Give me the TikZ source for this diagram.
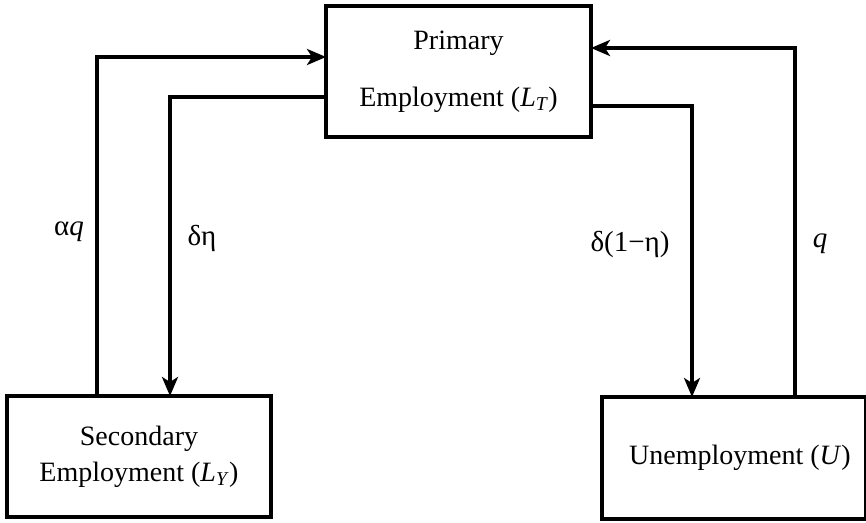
\documentclass[tikz,border=0pt]{standalone}
\usepackage{fontspec}
\setmainfont{Liberation Serif}
\usetikzlibrary{arrows.meta}
\begin{document}
\begin{tikzpicture}[x=1pt,y=-1pt,
  box/.style={draw,line width=3.2pt,inner sep=0pt,outer sep=0pt,align=center},
  conn/.style={line width=3.2pt},
  arr/.style={conn,-{Stealth[length=19pt,width=16pt,inset=5pt]}},
  lab/.style={font=\fontsize{29}{30}\selectfont,inner sep=0pt}]
\useasboundingbox (0,0) rectangle (866,522);
\node[box,minimum width=265pt,minimum height=131pt,font=\fontsize{28}{57}\selectfont] (P) at (458.5,71.5) {Primary\\Employment (\textit{L}\textsubscript{\textit{T}})};
\node[box,minimum width=264pt,minimum height=121pt,font=\fontsize{28}{36}\selectfont] (S) at (139,456.5) {Secondary\\Employment (\textit{L}\textsubscript{\textit{Y}})};
\node[box,minimum width=264pt,minimum height=122pt,font=\fontsize{28}{36}\selectfont] (U) at (734,458) {\hspace*{12pt}Unemployment (\textit{U})};
\coordinate (xa) at (97,57);
\coordinate (xd) at (170,97);
\coordinate (xe) at (692,106);
\coordinate (xq) at (795,48);
\draw[arr] (S.north -| xa) -- (xa) -- (P.west |- xa);
\draw[arr] (P.west |- xd) -- (xd) -- (S.north -| xd);
\draw[arr] (P.east |- xe) -- (xe) -- (U.north -| xe);
\draw[arr] (U.north -| xq) -- (xq) -- (P.east |- xq);
\node[lab] (la) at (69,232) {α\textit{q}};
\node[lab] (ld) at (202,238) {δη};
\node[lab] (le) at (630,244) {δ(1−η)};
\node[lab] (lq) at (820,244) {\textit{q}};
\end{tikzpicture}
\end{document}
